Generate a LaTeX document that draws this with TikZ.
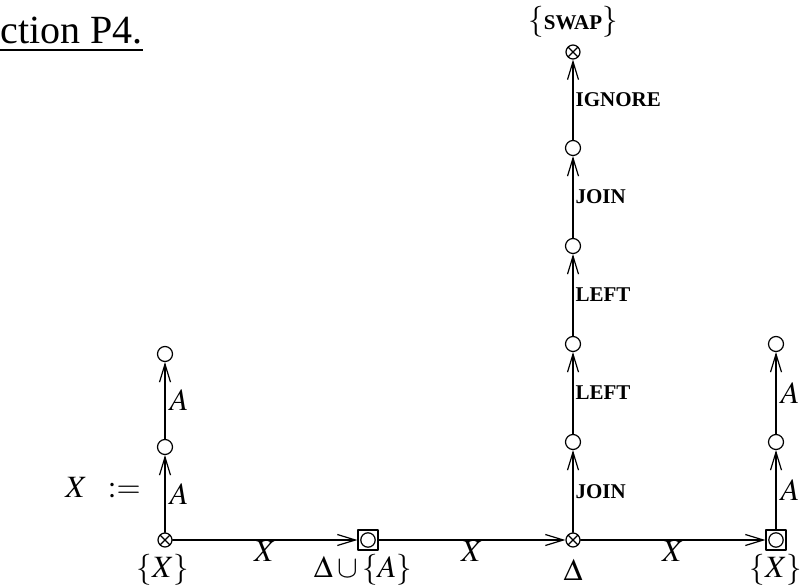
\documentclass[tikz,border=0pt]{standalone}
\usepackage{mathptmx}
\usepackage{fontspec}
\setmainfont{Liberation Serif}
\usetikzlibrary{arrows.meta}

\begin{document}
\begin{tikzpicture}[x=0.5pt,y=-0.5pt,line join=round,line cap=round,
  vtx/.style={circle,draw,semithick,minimum size=7.5pt,inner sep=0pt},
  otx/.style={vtx,minimum size=7pt,path picture={\draw[semithick] (path picture bounding box.north west)--(path picture bounding box.south east) (path picture bounding box.north east)--(path picture bounding box.south west);}},
  bvx/.style={draw,semithick,minimum size=10pt,inner sep=0pt,path picture={\draw[semithick] (path picture bounding box.center) circle (3.6pt);}},
  arr/.style={-{Straight Barb[length=9pt,width=5.5pt]},semithick},
  lbl/.style={font=\fontsize{15.5}{18}\selectfont},
  cmd/.style={font=\fontsize{10.5}{12}\selectfont\bfseries,anchor=west,inner sep=1pt}]
\useasboundingbox (0,0) rectangle (803,588);
% bottom row and side columns
\node[otx] (l0) at (165,540) {};
\node[vtx] (l1) at (165,447) {};
\node[vtx] (l2) at (165,354) {};
\node[bvx] (b1) at (368,540) {};
\node[otx] (m0) at (573,540) {};
\foreach \k/\y in {1/442,2/344,3/246,4/148}{\node[vtx] (m\k) at (573,\y) {};}
\node[otx] (m5) at (573,52) {};
\node[bvx] (r0) at (776,540) {};
\node[vtx] (r1) at (776,442) {};
\node[vtx] (r2) at (776,344) {};
% edges
\foreach \a/\b in {l0/b1,b1/m0,m0/r0}{\draw[arr] (\a)--(\b) node[midway,below=0pt,inner sep=0.5pt,lbl] {$X$};}
\foreach \a/\b in {l0/l1,l1/l2,r0/r1,r1/r2}{\draw[arr] (\a)--(\b) node[midway,right,inner sep=2pt,lbl] {$A$};}
\foreach \a/\b/\t in {m0/m1/JOIN,m1/m2/LEFT,m2/m3/LEFT,m3/m4/JOIN,m4/m5/IGNORE}{\draw[arr] (\a)--(\b) node[midway,cmd] {\t};}
% texts
\node[lbl] (tl0) at (163,570) {$\{X\}$};
\node[lbl] (tb1) at (363,570) {$\Delta\cup\{A\}$};
\node[lbl] (tm0) at (573,570) {$\Delta$};
\node[lbl] (tr0) at (776,570) {$\{X\}$};
\node[lbl] (tm5) at (573,22) {$\{$\textbf{\fontsize{10.5}{12}\selectfont SWAP}$\}$};
\node[lbl] (def) at (103,488) {$X\;\;:=$};
\node[anchor=base west,inner sep=0pt,font=\fontsize{20}{22}\selectfont] (sec) at (0,44) {\underline{ction P4.}};
\end{tikzpicture}
\end{document}
